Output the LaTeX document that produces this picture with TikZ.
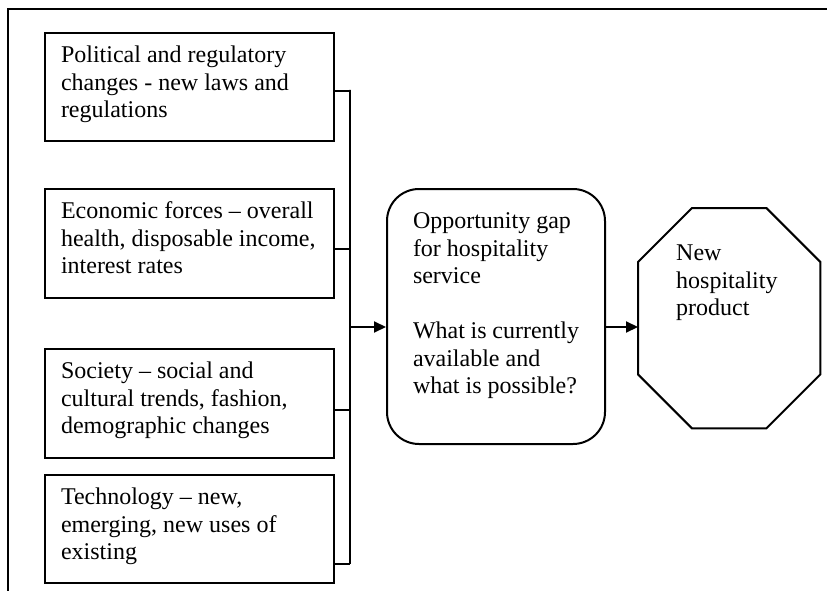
\documentclass[tikz,border=0pt]{standalone}
\usepackage{fontspec}
\setmainfont{Liberation Serif}
\usetikzlibrary{arrows.meta}
\tikzset{
  line/.style={line width=2pt, line join=miter},
  txt/.style={font=\fontsize{24}{27.5}\selectfont, align=left, anchor=north west},
  inbox/.style={txt, draw, line width=2pt, inner xsep=16pt, inner ysep=13pt},
  arr/.style={line width=2pt, -{Triangle[length=12pt,width=11pt]}},
}
\newcommand{\tbox}[3]{\parbox[c][#2][t]{#1}{#3}}
\begin{document}
\begin{tikzpicture}[x=1pt,y=-1pt]
\useasboundingbox (0,0) rectangle (827,591);
% frame (top and left edges)
\draw[line width=2.8pt] (8,591) -- (8,9) -- (827,9);
% input boxes
\node[inbox] (b1) at (44,32) {\tbox{257pt}{82pt}{Political and regulatory\\changes - new laws and\\regulations}};
\node[inbox] (b2) at (44,188) {\tbox{257pt}{83pt}{Economic forces -- overall\\health, disposable income,\\interest rates}};
\node[inbox] (b3) at (44,348) {\tbox{257pt}{83pt}{Society -- social and\\cultural trends, fashion,\\demographic changes}};
\node[inbox] (b4) at (44,474) {\tbox{257pt}{82pt}{Technology -- new,\\emerging, new uses of\\existing}};
% opportunity box
\node[txt, draw, line width=2pt, rounded corners=32pt, inner xsep=26pt, inner ysep=24pt] (opp) at (386,188)
  {\tbox{166pt}{207pt}{Opportunity gap\\for hospitality\\service\\[27.5pt]What is currently\\available and\\what is possible?}};
% product octagon (text node, outline drawn from its corners)
\node[txt, inner xsep=38pt, inner ysep=37pt] (prod) at (638,208)
  {\tbox{106pt}{146pt}{New\\hospitality\\product}};
\draw[line] ([xshift=54pt]prod.north west) -- ([xshift=-54pt]prod.north east)
  -- ([yshift=-54pt]prod.north east) -- ([yshift=54pt]prod.south east)
  -- ([xshift=-54pt]prod.south east) -- ([xshift=54pt]prod.south west)
  -- ([yshift=54pt]prod.south west) -- ([yshift=-54pt]prod.north west) -- cycle;
% bus
\coordinate (bt) at (350,90);
\coordinate (bb) at (350,564);
\coordinate (bm) at (350,327);
\draw[line] ([yshift=-4pt]b1.east) -- ([yshift=-4pt]b1.east -| bt) -- (bt) -- (bb);
\draw[line] ([yshift=-5pt]b2.east) -- ([yshift=-5pt]b2.east -| bt);
\draw[line] ([yshift=-6pt]b3.east) -- ([yshift=-6pt]b3.east -| bt);
\draw[line] (bb) -- (bb -| b4.east);
\draw[arr] (bm) -- (bm -| opp.west);
\draw[arr] (bm -| opp.east) -- (bm -| prod.west);
\end{tikzpicture}
\end{document}
